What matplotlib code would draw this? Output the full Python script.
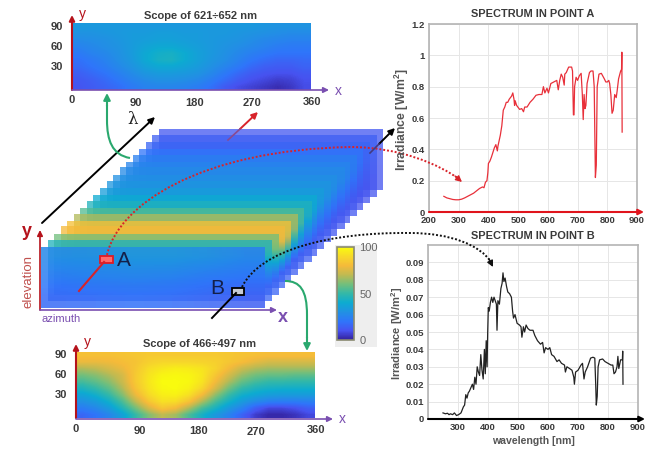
#!/usr/bin/env python

import matplotlib
matplotlib.use("Agg")
import matplotlib.pyplot as plt
import numpy as np
from matplotlib.cm import ScalarMappable
from matplotlib.colors import LinearSegmentedColormap, Normalize
from matplotlib.patches import FancyArrowPatch, PathPatch, Rectangle
from matplotlib.path import Path

W, H = 648, 451

# rows run from elevation 90 down to 0, columns from azimuth 0 to 360
scope_621 = [
    [33, 33, 33, 33, 33, 33, 33, 33, 33, 33, 33, 33, 33, 33, 32, 31, 31, 31],
    [31, 31, 32, 33, 34, 34, 35, 35, 34, 34, 33, 33, 32, 31, 30, 29, 28, 28],
    [28, 29, 30, 32, 34, 35, 36, 36, 35, 34, 33, 32, 31, 29, 27, 26, 25, 25],
    [25, 27, 29, 31, 34, 37, 39, 39, 37, 35, 33, 31, 29, 27, 25, 23, 22, 22],
    [22, 25, 27, 30, 34, 39, 42, 43, 40, 36, 33, 30, 27, 24, 22, 20, 20, 20],
    [19, 22, 25, 29, 33, 39, 43, 44, 40, 36, 32, 29, 25, 21, 18, 16, 16, 17],
    [17, 20, 23, 27, 31, 36, 39, 39, 37, 34, 30, 26, 22, 17, 14, 13, 13, 15],
    [14, 17, 20, 24, 28, 32, 34, 34, 33, 31, 27, 22, 17, 13, 11, 10, 10, 12],
    [12, 14, 17, 21, 25, 28, 30, 30, 29, 27, 23, 18, 13, 10, 8, 6, 7, 10],
    [11, 13, 15, 18, 22, 25, 26, 26, 25, 23, 19, 13, 9, 7, 5, 3, 5, 9],
]
scope_466 = [
    [82, 82, 82, 83, 84, 85, 85, 85, 85, 85, 85, 84, 83, 82, 81, 81, 81, 81],
    [78, 78, 79, 81, 83, 87, 89, 89, 89, 88, 87, 84, 81, 77, 74, 74, 74, 74],
    [68, 70, 74, 78, 84, 91, 94, 96, 95, 93, 88, 80, 72, 68, 66, 66, 66, 66],
    [60, 63, 68, 74, 85, 93, 98, 99, 98, 94, 84, 74, 65, 60, 58, 58, 57, 57],
    [53, 57, 63, 72, 85, 94, 100, 100, 99, 93, 80, 68, 58, 53, 50, 50, 49, 49],
    [45, 50, 57, 68, 83, 93, 99, 100, 97, 89, 74, 60, 50, 45, 43, 42, 42, 42],
    [37, 42, 50, 62, 78, 90, 96, 97, 92, 80, 64, 51, 42, 38, 35, 34, 34, 34],
    [30, 34, 42, 54, 70, 84, 92, 91, 83, 68, 54, 43, 34, 28, 24, 23, 23, 24],
    [23, 27, 34, 46, 60, 74, 84, 80, 68, 54, 44, 33, 25, 14, 8, 8, 10, 14],
    [16, 20, 26, 36, 50, 62, 70, 66, 54, 43, 33, 25, 15, 6, 2, 2, 4, 8],
]

# the stack of slices, front to back
front_layer = [
    [27, 28, 30, 30, 28, 24],
    [23, 25, 26, 25, 22, 20],
    [17, 18, 19, 18, 16, 14],
]
layer_top = [27, 45, 60, 80, 82, 68, 55, 45, 40, 35, 32, 30, 28, 26, 24, 20, 16, 14, 12]
layer_bottom = [15, 16, 16, 15, 15, 14, 14, 14, 13, 13, 13, 12, 12, 12, 12, 11, 11, 11, 11]

a_nm = [250, 260, 270, 280, 290, 300, 310, 320, 330, 340, 350, 360, 370, 380, 385,
        390, 395, 398, 400, 405, 410, 415, 420, 425, 430, 432, 440, 445, 450, 455,
        460, 465, 470, 478, 482, 486, 488, 490, 495, 505, 512, 518, 522, 530, 540,
        550, 560, 570, 580, 585, 590, 597, 602, 610, 620, 630, 635, 640, 645, 650,
        655, 657, 662, 670, 680, 683, 686, 688, 690, 695, 700, 706, 712, 716, 719,
        722, 725, 728, 732, 740, 745, 752, 756, 760, 763, 766, 772, 780, 790, 795,
        800, 805, 808, 812, 816, 820, 825, 830, 833, 838, 845, 848, 849, 850]
a_irr = [.10, .09, .085, .08, .078, .078, .082, .09, .10, .11, .12, .135, .15, .16, .155,
         .19, .20, .25, .31, .325, .35, .38, .41, .43, .39, .42, .49, .55, .65, .67,
         .70, .70, .72, .74, .76, .72, .68, .71, .68, .655, .66, .64, .67, .67, .70,
         .72, .745, .75, .75, .80, .76, .79, .76, .82, .83, .84, .78, .84, .88, .86,
         .81, .88, .89, .925, .925, .90, .62, .62, .80, .86, .84, .87, .885, .75, .59,
         .75, .66, .68, .82, .89, .90, .90, .80, .22, .30, .80, .88, .885, .85, .83,
         .83, .84, .82, .75, .63, .65, .75, .73, .77, .85, .90, .91, 1.02, .51]

b_nm = [250, 258, 265, 270, 275, 282, 288, 295, 302, 310, 318, 322, 326, 330, 334,
        338, 343, 348, 352, 356, 360, 364, 368, 372, 376, 380, 384, 388, 391, 394,
        397, 399, 401, 404, 408, 412, 416, 420, 424, 428, 430, 433, 438, 443, 447,
        450, 453, 457, 462, 466, 472, 478, 482, 485, 490, 497, 505, 510, 513, 518,
        522, 527, 533, 540, 550, 556, 565, 575, 582, 587, 592, 600, 606, 612, 620,
        630, 637, 645, 655, 658, 663, 672, 680, 686, 688, 692, 700, 710, 715, 720,
        724, 732, 742, 750, 756, 759, 761, 764, 767, 772, 782, 790, 800, 810, 816,
        820, 825, 830, 833, 836, 842, 848, 849, 850]
b_irr = [.0035, .003, .0033, .0025, .003, .0025, .0035, .002, .0025, .0035, .007, .008, .014, .012, .015,
         .016, .018, .02, .017, .024, .02, .03, .027, .025, .037, .028, .023, .04, .026, .045,
         .03, .05, .064, .062, .067, .07, .067, .07, .068, .066, .051, .068, .066, .075, .078,
         .084, .079, .081, .076, .073, .072, .07, .062, .058, .06, .055, .054, .053, .047, .053,
         .05, .054, .052, .051, .051, .048, .045, .043, .044, .038, .041, .04, .041, .037, .036,
         .033, .034, .032, .031, .027, .03, .029, .028, .024, .02, .027, .028, .031, .032, .023,
         .027, .03, .035, .0355, .035, .02, .008, .013, .03, .034, .0345, .033, .032, .031, .031,
         .026, .027, .03, .036, .029, .034, .034, .039, .02]

wave_ticks = [200, 300, 400, 500, 600, 700, 800, 900]
a_yticks = [0, 0.2, 0.4, 0.6, 0.8, 1, 1.2]
a_ylabels = ["0", "0.2", "0.4", "0.6", "0.8", "1", "1.2"]
b_yticks = [0, .01, .02, .03, .04, .05, .06, .07, .08, .09]
b_ylabels = ["0", "0.01", "0.02", "0.03", "0.04", "0.05", "0.06", "0.07", "0.08", "0.09"]

parula = LinearSegmentedColormap.from_list("parula", [
    "#33209a", "#4752f0", "#2f75fa", "#2191e3", "#0dabd1", "#33b8a8",
    "#72bf7c", "#bfba52", "#f5ba3a", "#f7d929", "#f9fb0e"])
norm = Normalize(0, 100)

RED = "#b5121b"
PURPLE = "#7a4fb0"
GREEN = "#2aa86e"
DARK = "#3a3a3a"

plt.rcParams["font.family"] = ["Liberation Sans", "DejaVu Sans"]
plt.rcParams["mathtext.fontset"] = "custom"
plt.rcParams["mathtext.bf"] = "Liberation Sans:bold"


def px_axes(fig, x0, y0, x1, y1, **kw):
    # axes placed by pixel box, y measured from the top of the image
    return fig.add_axes([x0 / W, 1 - y1 / H, (x1 - x0) / W, (y1 - y0) / H], **kw)


def arrow(ax, p0, p1, color, lw=1.5, size=9):
    ax.add_patch(FancyArrowPatch(p0, p1, arrowstyle="-|>", mutation_scale=size,
                                 color=color, lw=lw, shrinkA=0, shrinkB=0))


def curve(ax, verts, codes, color, ls=(0, (1, 1)), lw=1.4):
    ax.add_patch(PathPatch(Path(verts, codes), fc="none", ec=color, ls=ls, lw=lw))


def heatmap(ax, values, box):
    x0, y0, x1, y1 = box
    ax.imshow(values, cmap=parula, norm=norm, extent=(x0, x1, y1, y0),
              aspect="auto", interpolation="bilinear", zorder=2)


def spectrum(fig, box, nm, irr, color, title, ylim, yticks, ylabels, pad):
    ax = px_axes(fig, *box)
    ax.plot(nm, irr, color=color, lw=0.9)
    ax.set_xlim(200, 900)
    ax.set_ylim(*ylim)
    ax.set_xticks(wave_ticks)
    ax.set_yticks(yticks)
    ax.set_yticklabels(ylabels)
    ax.grid(color="#e6e6e6", lw=0.7)
    ax.set_axisbelow(True)
    ax.tick_params(length=0, pad=3, labelsize=6.8, labelcolor=DARK)
    for lab in ax.get_xticklabels() + ax.get_yticklabels():
        lab.set_fontweight("bold")
    for s in ax.spines.values():
        s.set_color("#b4b4b4")
        s.set_linewidth(1.2)
    ax.set_title(title, fontsize=7.9, fontweight="bold", color=DARK, pad=pad)
    return ax


fig = plt.figure(figsize=(W / 100, H / 100), dpi=100, facecolor="white")

# stack of slices and the two scope maps
back = px_axes(fig, 0, 0, W, H)
back.axis("off")

step = 6.55
for i in range(len(layer_top) - 1, 0, -1):
    vals = [[layer_top[i]], [layer_bottom[i]]]
    back.imshow(vals, cmap=parula, norm=norm, alpha=0.76, aspect="auto",
                extent=(41 + i * step, 265 + i * step, 308 - i * step, 247 - i * step),
                interpolation="bilinear", zorder=1)
back.imshow(front_layer, cmap=parula, norm=norm, alpha=0.85, aspect="auto",
            extent=(41, 265, 308, 247), interpolation="bilinear", zorder=1)

heatmap(back, scope_621, (72, 23, 311, 90))
heatmap(back, scope_466, (76, 352, 315, 418))
back.set_xlim(0, W)
back.set_ylim(H, 0)

# colorbar on its grey panel
back.add_patch(Rectangle((335, 245), 42, 102, fc="#eeeeee", ec="none", zorder=0))
cax = px_axes(fig, 337, 247, 354, 340)
cb = fig.colorbar(ScalarMappable(norm, parula), cax=cax, ticks=[0, 50, 100])
cb.ax.tick_params(length=0, labelsize=8, labelcolor="#666666", pad=4)
cb.outline.set_edgecolor("#8a8a70")
cb.outline.set_linewidth(1.2)

# the two spectra
ax_a = spectrum(fig, (429, 24, 637, 212), a_nm, a_irr, "#e8303a", "SPECTRUM IN POINT A",
                (0, 1.2), a_yticks, a_ylabels, 5)
ax_b = spectrum(fig, (428, 245, 638, 419), b_nm, b_irr, "#222222", "SPECTRUM IN POINT B",
                (0, 0.1), b_yticks, b_ylabels, 4)
ax_b.xaxis.get_major_ticks()[0].label1.set_visible(False)

# everything drawn over the panels
top = px_axes(fig, 0, 0, W, H)
top.set_xlim(0, W)
top.set_ylim(H, 0)
top.axis("off")
top.patch.set_alpha(0)


def label(x, y, s, **kw):
    kw.setdefault("ha", "center")
    kw.setdefault("va", "center")
    top.text(x, y, s, **kw)


for (x, y, s) in [(72, 100, "0"), (136, 103, "90"), (195, 103, "180"), (252, 103, "270"), (312, 102, "360"),
                  (57, 27, "90"), (57, 47, "60"), (57, 67, "30"),
                  (76, 429, "0"), (140, 431, "90"), (199, 431, "180"), (256, 432, "270"), (316, 430, "360"),
                  (61, 355, "90"), (61, 375, "60"), (61, 395, "30")]:
    label(x, y, s, fontsize=8, fontweight="bold", color=DARK)
label(201, 16, "Scope of 621÷652 nm", fontsize=8, fontweight="bold", color=DARK)
label(200, 344, "Scope of 466÷497 nm", fontsize=8, fontweight="bold", color=DARK)

# map axes
arrow(top, (72, 90), (72, 15), RED, lw=1.5, size=8)
arrow(top, (72, 90), (329, 90), PURPLE, lw=1.2, size=8)
label(82, 14, "y", fontsize=10, color=RED)
label(338, 91, "x", fontsize=10, color=PURPLE)
arrow(top, (76, 418), (76, 344), RED, lw=1.5, size=8)
arrow(top, (76, 419), (333, 419), PURPLE, lw=1.2, size=8)
label(87, 342, "y", fontsize=10, color=RED)
label(342, 419, "x", fontsize=10, color=PURPLE)

# stack axes
arrow(top, (40, 310), (40, 230), RED, lw=1.2, size=8)
arrow(top, (40, 310), (277, 310), PURPLE, lw=1.2, size=8)
label(27, 232, "y", fontsize=13, fontweight="bold", color=RED)
label(283, 318, "x", fontsize=13, fontweight="bold", color=PURPLE)
label(61, 319, "azimuth", fontsize=8, color=PURPLE)
label(28, 282, "elevation", fontsize=9.5, color="#c0504d", rotation=90)
label(133, 120, "λ", fontsize=12, family="DejaVu Serif", color="#222222")

# wavelength direction and the pixel rays
arrow(top, (42, 223), (155, 117), "black", lw=1.4, size=9)
top.plot([79, 104], [291, 262], color="#d8232a", lw=1.5)
top.plot([228, 240], [140, 129], color="#8a4a90", lw=1.2)
arrow(top, (240, 129), (258, 112), "#d8232a", lw=1.4, size=9)
top.plot([212, 236], [318, 293], color="black", lw=1.4)
top.plot([370, 379], [153, 144], color="#443a80", lw=1.2)
arrow(top, (379, 144), (395, 128), "black", lw=1.4, size=9)

# picked pixels
top.add_patch(Rectangle((100, 256), 13, 7, fc="#ff6b6b", ec="#e01b24", lw=1.3))
top.add_patch(Rectangle((232, 288), 12, 7, fc="#c8ccd4", ec="black", lw=1.3))
label(124, 260, "A", fontsize=15, color="#14204a")
label(217, 288, "B", fontsize=15, color="#14204a")

C3 = [Path.MOVETO, Path.CURVE4, Path.CURVE4, Path.CURVE4, Path.CURVE4, Path.CURVE4, Path.CURVE4]

# dotted links to the spectra
curve(top, [(107, 255), (118, 205), (200, 150), (350, 147), (400, 147), (440, 165), (459, 179)], C3, "#d8232a")
arrow(top, (455, 176), (462, 182), "#d8232a", lw=1, size=9)
curve(top, [(242, 287), (260, 250), (330, 232), (410, 233), (450, 233), (480, 245), (491, 262)], C3, "#111111")
arrow(top, (489, 259), (493, 267), "#111111", lw=1, size=9)

# green links to the scope maps
curve(top, [(130, 158), (112, 155), (107, 140), (107, 120), (107, 115), (107, 110), (107, 105)], C3, GREEN, ls="-", lw=1.5)
arrow(top, (107, 106), (107, 93), GREEN, lw=1.5, size=10)
curve(top, [(285, 281), (300, 281), (307, 290), (307, 315), (307, 325), (307, 330), (307, 338)], C3, GREEN, ls="-", lw=1.5)
arrow(top, (307, 337), (307, 351), GREEN, lw=1.5, size=10)

# x axis arrows of the spectra
arrow(top, (429, 212), (644, 212), "#e0141c", lw=1.5, size=8)
arrow(top, (428, 419), (645, 419), "black", lw=1.5, size=8)

ylab = r"Irradiance [W/m$^{\mathbf{2}}$]"
label(402, 120, ylab, fontsize=8.8, fontweight="bold", color="#555555", rotation=90)
label(397, 333, ylab, fontsize=8, fontweight="bold", color="#555555", rotation=90)
label(533, 441, "wavelength [nm]", fontsize=7.6, fontweight="bold", color="#555555")

fig.savefig("out.png", dpi=100)
